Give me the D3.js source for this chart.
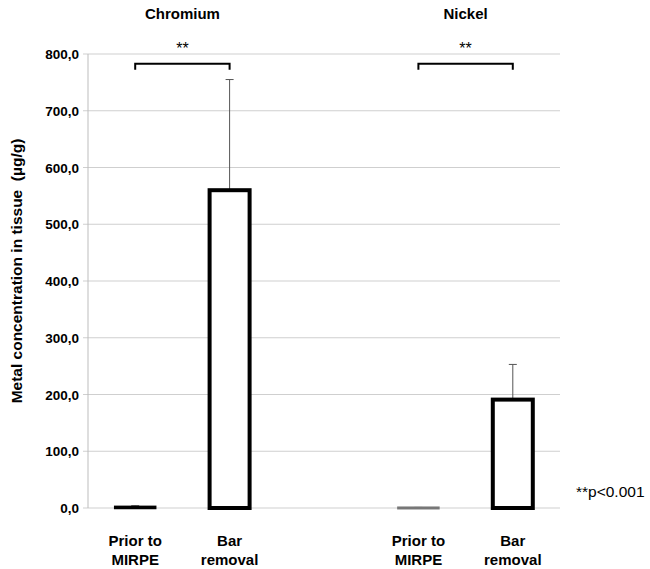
<!DOCTYPE html>
<html><head><meta charset="utf-8">
<script src="https://cdn.jsdelivr.net/npm/d3@7"></script>
<style>body{margin:0;background:#fff;} text{font-family:"Liberation Sans",Arial,sans-serif;}</style>
</head><body><svg id="c" width="650" height="569"></svg>
<script>
const categories = ["cr_prior","cr_bar","gap","ni_prior","ni_bar"];
const catLabels = [["Prior to","MIRPE"],["Bar","removal"],[],["Prior to","MIRPE"],["Bar","removal"]];
const values = [2, 560, null, 0.5, 191];
const errors = [4, 755, null, 1, 253];
const groups = ["Chromium","Nickel"];
const groupPairs = [[0,1],[3,4]];
const yTicks = [0,100,200,300,400,500,600,700,800];
const bracketLevel = 783;

const svg = d3.select("#c");
const m = {l:88, r:90, t:54, b:61};
const W = 650, H = 569;
const x = d3.scaleBand().domain(categories).range([m.l, W - m.r]).paddingInner(0).paddingOuter(0);
const y = d3.scaleLinear().domain([0,800]).range([H - m.b, m.t]);
const bw = 40;

// gridlines
svg.append("g").selectAll("line").data(yTicks).join("line")
  .attr("x1", m.l - 5).attr("x2", W - m.r)
  .attr("y1", d => y(d)).attr("y2", d => y(d))
  .attr("stroke", "#cfcfcf").attr("stroke-width", 1);
// y axis
svg.append("line").attr("x1", m.l).attr("x2", m.l).attr("y1", y(800)).attr("y2", y(0))
  .attr("stroke", "#bdbdbd").attr("stroke-width", 1);
svg.append("g").selectAll("text").data(yTicks).join("text")
  .attr("x", m.l - 9).attr("y", d => y(d) + 5)
  .attr("text-anchor", "end").attr("font-size", 13.5).attr("font-weight", "bold")
  .text(d => d3.format(".1f")(d).replace(".", ","));

const idx = d3.range(categories.length).filter(i => values[i] !== null);
// error bars
const eg = svg.append("g");
idx.forEach(i => {
  const cx = x(categories[i]) + x.bandwidth()/2;
  eg.append("line").attr("x1", cx).attr("x2", cx).attr("y1", y(values[i])).attr("y2", y(errors[i]))
    .attr("stroke", "#555").attr("stroke-width", 1);
  eg.append("line").attr("x1", cx - 4).attr("x2", cx + 4).attr("y1", y(errors[i])).attr("y2", y(errors[i]))
    .attr("stroke", "#555").attr("stroke-width", 1);
});
// bars
svg.append("g").selectAll("rect").data(idx).join("rect")
  .attr("x", i => x(categories[i]) + x.bandwidth()/2 - bw/2)
  .attr("y", i => y(values[i]))
  .attr("width", bw)
  .attr("height", i => Math.max(0.5, y(0) - y(values[i])))
  .attr("fill", "#fff").attr("stroke", i => values[i] < 1 ? "#777" : "#000")
  .attr("stroke-width", i => values[i] < 5 ? 2.5 : 4);

// group titles, brackets, stars
groupPairs.forEach((p, gi) => {
  const x1 = x(categories[p[0]]) + x.bandwidth()/2;
  const x2 = x(categories[p[1]]) + x.bandwidth()/2;
  const cx = (x1 + x2)/2;
  svg.append("text").attr("x", cx).attr("y", 19).attr("text-anchor", "middle")
    .attr("font-size", 15).attr("font-weight", "bold").text(groups[gi]);
  const by = y(bracketLevel);
  svg.append("path").attr("d", `M${x1},${by+6}V${by}H${x2}V${by+6}`)
    .attr("fill", "none").attr("stroke", "#000").attr("stroke-width", 2);
  svg.append("text").attr("x", cx).attr("y", 54).attr("text-anchor", "middle")
    .attr("font-size", 16).text("**");
});

// x labels
catLabels.forEach((lines, i) => {
  const cx = x(categories[i]) + x.bandwidth()/2;
  lines.forEach((t, j) => {
    svg.append("text").attr("x", cx).attr("y", 546 + j*19).attr("text-anchor", "middle")
      .attr("font-size", 15).attr("font-weight", "bold").text(t);
  });
});

// y label
svg.append("text").attr("transform", `translate(22,${(y(0)+y(800))/2 - 10}) rotate(-90)`)
  .attr("text-anchor", "middle").attr("font-size", 15.5).attr("font-weight", "bold")
  .attr("xml:space", "preserve").style("white-space", "pre")
  .text("Metal concentration in tissue  (µg/g)");

// note
svg.append("text").attr("x", 576).attr("y", 497).attr("font-size", 15.5).text("**p<0.001");
</script></body></html>
